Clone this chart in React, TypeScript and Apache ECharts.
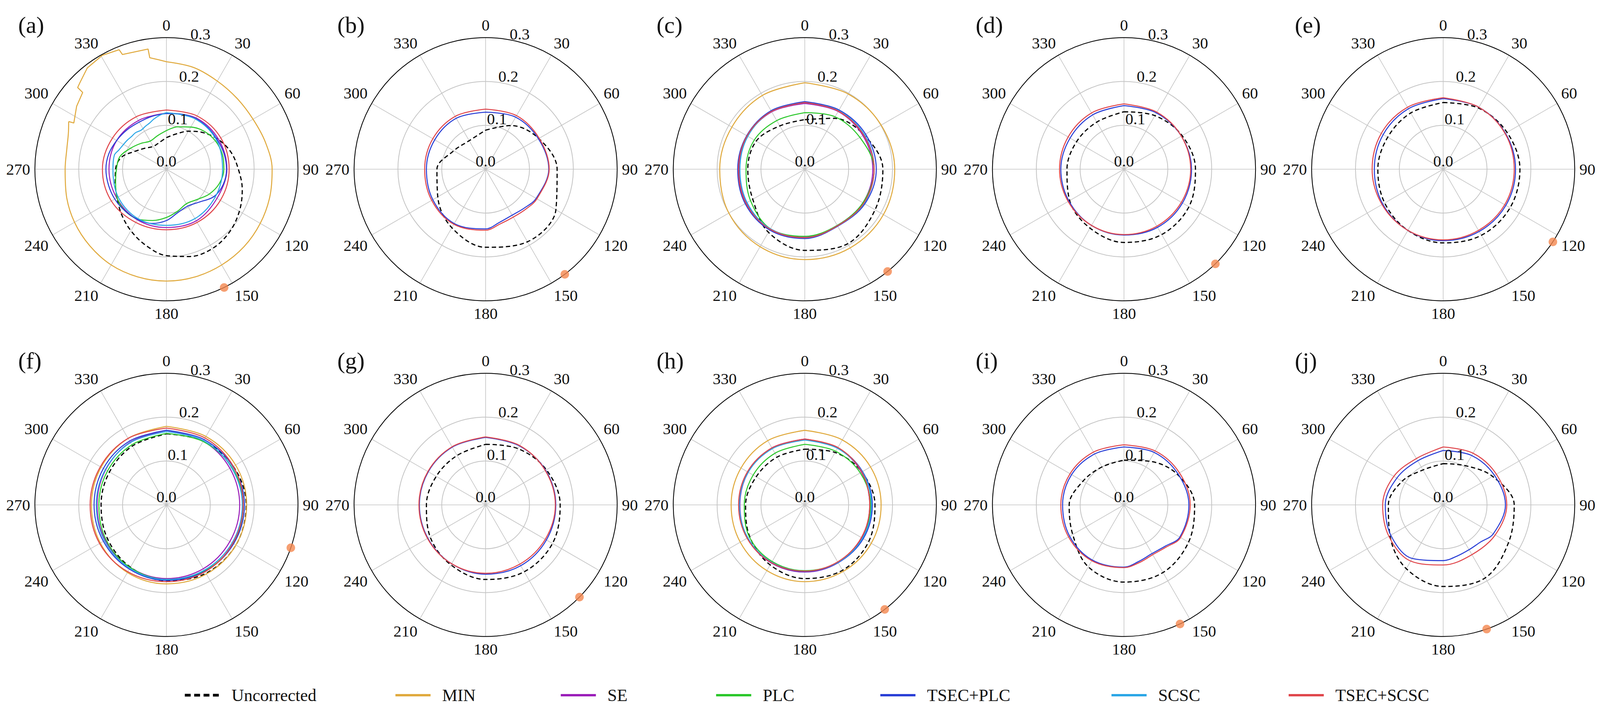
import { useEffect, useRef } from "react"
import * as echarts from "echarts"

const FONT = "'Liberation Serif', 'Times New Roman', serif"

// angles (deg, clockwise from north) at which the curves were read
const angles30 = [0, 30, 60, 90, 120, 150, 180, 210, 240, 270, 300, 330]
const angles15 = [0, 15, 30, 45, 60, 75, 90, 105, 120, 135, 150, 165, 180, 195, 210, 225, 240, 255, 270, 285, 300, 315, 330, 345]
// extra readings where a curve runs as a flat chord in the lower right
const anglesFlat = [0, 30, 60, 90, 120, 135, 150, 165, 180, 210, 240, 270, 300, 330]

const legendNames = ["Uncorrected", "MIN", "SE", "PLC", "TSEC+PLC", "SCSC", "TSEC+SCSC"]
const legendLeft = [496, 1066, 1513, 1933, 2377, 3002, 3481]
const panelLabels = ["(a)", "(b)", "(c)", "(d)", "(e)", "(f)", "(g)", "(h)", "(i)", "(j)"]
const radialTicks = [0, 0.1, 0.2, 0.3]

// (a)
const aUncorrected = [0.072, 0.083, 0.100, 0.118, 0.136, 0.152, 0.164, 0.179, 0.192, 0.203, 0.209, 0.206, 0.197, 0.180, 0.162, 0.145, 0.130, 0.121, 0.116, 0.106, 0.082, 0.068, 0.060, 0.063]
// MIN in (a): a smooth arc, then a stepped stretch in the upper left
const aMinArcAngles = [0, 15, 30, 45, 60, 75, 90, 105, 120, 135, 150, 165, 180, 195, 210, 225, 240, 255, 270, 282, 290, 296]
const aMinArc = [0.245, 0.240, 0.232, 0.228, 0.228, 0.234, 0.241, 0.244, 0.247, 0.250, 0.252, 0.254, 0.255, 0.254, 0.252, 0.247, 0.242, 0.236, 0.231, 0.232, 0.238, 0.248]
const aMinStepAngles = [296, 296.5, 305, 312.5, 312.6, 315, 322, 330.6, 338.4, 339, 351.3, 351.5, 356, 360]
const aMinStep = [0.248, 0.236, 0.250, 0.259, 0.275, 0.279, 0.293, 0.298, 0.293, 0.280, 0.277, 0.257, 0.250, 0.245]
const aSE = [0.128, 0.135, 0.137, 0.138, 0.133, 0.136, 0.133, 0.133, 0.131, 0.131, 0.131, 0.128]
const aPLC = [0.088, 0.100, 0.111, 0.122, 0.129, 0.132, 0.131, 0.125, 0.113, 0.098, 0.091, 0.099, 0.110, 0.121, 0.131, 0.134, 0.130, 0.120, 0.114, 0.110, 0.095, 0.083, 0.074, 0.079]
const aTsecPlc = [0.127, 0.130, 0.133, 0.134, 0.134, 0.136, 0.137, 0.134, 0.125, 0.106, 0.097, 0.102, 0.117, 0.128, 0.132, 0.134, 0.136, 0.137, 0.138, 0.136, 0.131, 0.127, 0.124, 0.125]
const aScscAngles = [0, 30, 60, 90, 120, 150, 180, 210, 240, 270, 285, 292, 300, 307, 313, 320, 327, 334, 340, 346, 353]
const aScsc = [0.129, 0.132, 0.132, 0.128, 0.128, 0.130, 0.128, 0.130, 0.127, 0.122, 0.123, 0.117, 0.113, 0.111, 0.109, 0.109, 0.106, 0.109, 0.112, 0.118, 0.124]
const aTsecScsc = [0.135, 0.140, 0.143, 0.143, 0.142, 0.140, 0.138, 0.140, 0.145, 0.146, 0.142, 0.138]

// (b)
const bUncorrected = [0.089, 0.115, 0.140, 0.163, 0.185, 0.191, 0.178, 0.154, 0.126, 0.111, 0.084, 0.075]
const bTsecPlc = [0.130, 0.137, 0.139, 0.144, 0.133, 0.125, 0.121, 0.125, 0.136, 0.143, 0.139, 0.135, 0.134, 0.134]
const bTsecScsc = [0.137, 0.141, 0.141, 0.145, 0.135, 0.129, 0.126, 0.129, 0.139, 0.145, 0.142, 0.139, 0.139, 0.139]

// (c)
const cUncorrected = [0.113, 0.134, 0.156, 0.178, 0.185, 0.196, 0.185, 0.166, 0.137, 0.130, 0.128, 0.114]
const cMin = [0.197, 0.198, 0.201, 0.205, 0.207, 0.207, 0.206, 0.204, 0.200, 0.194, 0.192, 0.194]
const cSE = [0.150, 0.152, 0.153, 0.155, 0.153, 0.148, 0.155, 0.157, 0.154, 0.150, 0.151, 0.151]
const cPLC = [0.129, 0.138, 0.145, 0.158, 0.153, 0.148, 0.153, 0.157, 0.143, 0.134, 0.133, 0.128]
const cTsecPlc = [0.154, 0.156, 0.160, 0.163, 0.158, 0.150, 0.158, 0.160, 0.157, 0.153, 0.153, 0.154]
const cScsc = [0.152, 0.154, 0.157, 0.158, 0.156, 0.149, 0.156, 0.157, 0.152, 0.148, 0.150, 0.152]
const cTsecScsc = [0.152, 0.153, 0.155, 0.158, 0.155, 0.149, 0.156, 0.158, 0.155, 0.151, 0.152, 0.152]

// (d)
const dUncorrected = [0.131, 0.141, 0.153, 0.163, 0.171, 0.172, 0.167, 0.155, 0.143, 0.130, 0.125, 0.124]
const dTsecPlc = [0.145, 0.148, 0.151, 0.154, 0.154, 0.153, 0.150, 0.148, 0.145, 0.144, 0.142, 0.143]
const dTsecScsc = [0.149, 0.150, 0.151, 0.152, 0.151, 0.150, 0.149, 0.148, 0.147, 0.147, 0.147, 0.148]

// (e)
const eUncorrected = [0.152, 0.161, 0.168, 0.175, 0.176, 0.174, 0.168, 0.161, 0.154, 0.149, 0.146, 0.148]
const eTsecPlc = [0.161, 0.163, 0.164, 0.165, 0.165, 0.164, 0.163, 0.161, 0.159, 0.157, 0.158, 0.159]
const eTsecScsc = [0.163, 0.163, 0.163, 0.162, 0.162, 0.161, 0.161, 0.161, 0.161, 0.162, 0.163, 0.163]

// (f)
const fUncorrected = [0.162, 0.168, 0.176, 0.182, 0.183, 0.180, 0.173, 0.164, 0.155, 0.149, 0.150, 0.155]
const fMin = [0.179, 0.180, 0.182, 0.183, 0.183, 0.182, 0.180, 0.178, 0.174, 0.171, 0.172, 0.175]
const fSE = [0.170, 0.168, 0.167, 0.167, 0.167, 0.168, 0.168, 0.165, 0.161, 0.158, 0.160, 0.165]
const fPLC = [0.163, 0.167, 0.172, 0.175, 0.176, 0.174, 0.170, 0.165, 0.159, 0.154, 0.155, 0.158]
const fTsecPlc = [0.170, 0.172, 0.175, 0.178, 0.177, 0.175, 0.172, 0.169, 0.166, 0.165, 0.166, 0.168]
const fScsc = [0.167, 0.169, 0.171, 0.173, 0.173, 0.172, 0.170, 0.167, 0.163, 0.160, 0.161, 0.164]
const fTsecScsc = [0.175, 0.176, 0.176, 0.175, 0.175, 0.176, 0.175, 0.176, 0.176, 0.174, 0.174, 0.175]

// (g)
const gUncorrected = [0.138, 0.148, 0.160, 0.170, 0.176, 0.176, 0.170, 0.158, 0.146, 0.135, 0.130, 0.130]
const gTsecPlc = [0.154, 0.155, 0.158, 0.160, 0.160, 0.160, 0.158, 0.155, 0.152, 0.151, 0.151, 0.152]
const gTsecScsc = [0.155, 0.156, 0.157, 0.159, 0.157, 0.156, 0.156, 0.155, 0.153, 0.152, 0.152, 0.153]

// (h)
const hUncorrected = [0.127, 0.138, 0.150, 0.160, 0.168, 0.172, 0.168, 0.158, 0.145, 0.135, 0.128, 0.126]
const hMin = [0.170, 0.171, 0.173, 0.174, 0.175, 0.175, 0.175, 0.173, 0.170, 0.168, 0.168, 0.169]
const hSE = [0.150, 0.150, 0.149, 0.148, 0.150, 0.152, 0.153, 0.153, 0.151, 0.148, 0.149, 0.150]
const hPLC = [0.138, 0.141, 0.146, 0.150, 0.152, 0.151, 0.150, 0.149, 0.146, 0.138, 0.136, 0.136]
const hTsecPlc = [0.149, 0.150, 0.152, 0.154, 0.154, 0.152, 0.152, 0.152, 0.151, 0.150, 0.150, 0.149]
const hScsc = [0.148, 0.149, 0.151, 0.152, 0.152, 0.151, 0.151, 0.151, 0.150, 0.149, 0.149, 0.148]
const hTsecScsc = [0.150, 0.151, 0.150, 0.148, 0.149, 0.150, 0.151, 0.152, 0.152, 0.151, 0.151, 0.150]

// (i)
const iUncorrected = [0.102, 0.115, 0.140, 0.161, 0.170, 0.178, 0.176, 0.163, 0.135, 0.125, 0.108, 0.100]
const iTsecPlc = [0.132, 0.138, 0.142, 0.148, 0.147, 0.133, 0.128, 0.133, 0.142, 0.145, 0.143, 0.140, 0.138, 0.134]
const iTsecScsc = [0.137, 0.142, 0.146, 0.151, 0.149, 0.136, 0.131, 0.136, 0.143, 0.147, 0.146, 0.144, 0.142, 0.139]

// (j)
const jUncorrected = [0.094, 0.103, 0.130, 0.162, 0.172, 0.192, 0.186, 0.168, 0.140, 0.125, 0.108, 0.092]
const jTsecPlc = [0.124, 0.130, 0.135, 0.142, 0.132, 0.120, 0.118, 0.121, 0.127, 0.141, 0.138, 0.132, 0.122, 0.116]
const jTsecScsc = [0.132, 0.136, 0.140, 0.145, 0.137, 0.131, 0.137, 0.148, 0.143, 0.138, 0.130, 0.122]

// angle of the orange marker on the outer ring, per panel
const dotAngles = [154, 143, 141, 136, 123.5, 109, 134.5, 142.6, 154.8, 160.7]
const dotRadius = 0.3

const colors: Record<string, string> = {
  Uncorrected: "#000000",
  MIN: "#e0aa3e",
  SE: "#9b1eb9",
  PLC: "#2bc72b",
  "TSEC+PLC": "#2a3fd6",
  SCSC: "#2ba6e6",
  "TSEC+SCSC": "#e0474c",
}

type Curve = { name: string; radii: number[]; angles: number[]; sharp?: boolean; open?: boolean }

const panels: Curve[][] = [
  [
    { name: "Uncorrected", radii: aUncorrected, angles: angles15 },
    { name: "MIN", radii: aMinArc, angles: aMinArcAngles, open: true },
    { name: "MIN", radii: aMinStep, angles: aMinStepAngles, sharp: true, open: true },
    { name: "SE", radii: aSE, angles: angles30 },
    { name: "PLC", radii: aPLC, angles: angles15 },
    { name: "TSEC+PLC", radii: aTsecPlc, angles: angles15 },
    { name: "SCSC", radii: aScsc, angles: aScscAngles },
    { name: "TSEC+SCSC", radii: aTsecScsc, angles: angles30 },
  ],
  [
    { name: "Uncorrected", radii: bUncorrected, angles: angles30 },
    { name: "TSEC+PLC", radii: bTsecPlc, angles: anglesFlat },
    { name: "TSEC+SCSC", radii: bTsecScsc, angles: anglesFlat },
  ],
  [
    { name: "Uncorrected", radii: cUncorrected, angles: angles30 },
    { name: "MIN", radii: cMin, angles: angles30 },
    { name: "SE", radii: cSE, angles: angles30 },
    { name: "PLC", radii: cPLC, angles: angles30 },
    { name: "TSEC+PLC", radii: cTsecPlc, angles: angles30 },
    { name: "SCSC", radii: cScsc, angles: angles30 },
    { name: "TSEC+SCSC", radii: cTsecScsc, angles: angles30 },
  ],
  [
    { name: "Uncorrected", radii: dUncorrected, angles: angles30 },
    { name: "TSEC+PLC", radii: dTsecPlc, angles: angles30 },
    { name: "TSEC+SCSC", radii: dTsecScsc, angles: angles30 },
  ],
  [
    { name: "Uncorrected", radii: eUncorrected, angles: angles30 },
    { name: "TSEC+PLC", radii: eTsecPlc, angles: angles30 },
    { name: "TSEC+SCSC", radii: eTsecScsc, angles: angles30 },
  ],
  [
    { name: "Uncorrected", radii: fUncorrected, angles: angles30 },
    { name: "MIN", radii: fMin, angles: angles30 },
    { name: "SE", radii: fSE, angles: angles30 },
    { name: "PLC", radii: fPLC, angles: angles30 },
    { name: "TSEC+PLC", radii: fTsecPlc, angles: angles30 },
    { name: "SCSC", radii: fScsc, angles: angles30 },
    { name: "TSEC+SCSC", radii: fTsecScsc, angles: angles30 },
  ],
  [
    { name: "Uncorrected", radii: gUncorrected, angles: angles30 },
    { name: "TSEC+PLC", radii: gTsecPlc, angles: angles30 },
    { name: "TSEC+SCSC", radii: gTsecScsc, angles: angles30 },
  ],
  [
    { name: "Uncorrected", radii: hUncorrected, angles: angles30 },
    { name: "MIN", radii: hMin, angles: angles30 },
    { name: "SE", radii: hSE, angles: angles30 },
    { name: "PLC", radii: hPLC, angles: angles30 },
    { name: "TSEC+PLC", radii: hTsecPlc, angles: angles30 },
    { name: "SCSC", radii: hScsc, angles: angles30 },
    { name: "TSEC+SCSC", radii: hTsecScsc, angles: angles30 },
  ],
  [
    { name: "Uncorrected", radii: iUncorrected, angles: angles30 },
    { name: "TSEC+PLC", radii: iTsecPlc, angles: anglesFlat },
    { name: "TSEC+SCSC", radii: iTsecScsc, angles: anglesFlat },
  ],
  [
    { name: "Uncorrected", radii: jUncorrected, angles: angles30 },
    { name: "TSEC+PLC", radii: jTsecPlc, angles: anglesFlat },
    { name: "TSEC+SCSC", radii: jTsecScsc, angles: angles30 },
  ],
]

// layout (px, in the 4326 x 1822 design frame)
const WIDTH = 4326
const HEIGHT = 1822
const colX = [450, 1313, 2176, 3039, 3902]
const rowY = [433, 1292]
const RADIUS = 346

// the browser may give a narrower page than the design frame: squeeze x positions to fit
function pageWidth() {
  return Math.min(WIDTH, window.innerWidth || WIDTH)
}

function buildOption(sx: number) {
  const n = panels.length
  const centers = panels.map((_, i) => [colX[i % 5] * sx, rowY[Math.floor(i / 5)]])
  const radius = RADIUS * (1 + sx) / 2

  const polar: any[] = []
  const angleAxis: any[] = []
  const radiusAxis: any[] = []
  const series: any[] = []

  centers.forEach((c, i) => {
    polar.push({ center: c, radius })
    angleAxis.push({
      polarIndex: i,
      type: "value",
      min: 0,
      max: 360,
      interval: 30,
      startAngle: 90,
      clockwise: true,
      z: 1,
      axisLine: { lineStyle: { color: "#000", width: 2 } },
      axisTick: { show: false },
      axisLabel: { fontSize: 41, fontFamily: FONT, color: "#111", margin: 12 },
      splitLine: { lineStyle: { color: "#c4c4c4", width: 1.6 } },
    })
    radiusAxis.push({
      polarIndex: i,
      type: "value",
      min: 0,
      max: 0.3,
      interval: 0.1,
      axisLine: { show: false },
      axisTick: { show: false },
      axisLabel: { show: false },
      splitLine: { lineStyle: { color: "#c4c4c4", width: 2 } },
    })
  })

  // second polar per panel only carries the radial tick labels, along a ray 15deg off north
  centers.forEach((c, i) => {
    polar.push({ center: c, radius })
    angleAxis.push({ polarIndex: n + i, type: "value", min: 0, max: 360, startAngle: 75, show: false })
    radiusAxis.push({
      polarIndex: n + i,
      type: "value",
      min: radialTicks[0],
      max: radialTicks[radialTicks.length - 1],
      interval: 0.1,
      z: 3,
      axisLine: { show: false },
      axisTick: { show: false },
      splitLine: { show: false },
      axisLabel: {
        show: true,
        margin: 0,
        align: "center",
        verticalAlign: "bottom",
        fontSize: 41,
        lineHeight: 42,
        fontFamily: FONT,
        color: "#111",
        showMinLabel: true,
        showMaxLabel: true,
        formatter: (v: number) => v.toFixed(1),
      },
    })
  })

  panels.forEach((curves, i) => {
    curves.forEach((cv) => {
      const data = cv.radii.map((r, k) => [r, cv.angles[k]])
      if (!cv.open && cv.angles[cv.angles.length - 1] !== 360) data.push([cv.radii[0], 360])
      const dashed = cv.name === "Uncorrected"
      series.push({
        type: "line",
        name: cv.name,
        coordinateSystem: "polar",
        polarIndex: i,
        data,
        symbol: "none",
        smooth: cv.sharp ? false : 0.35,
        silent: true,
        z: 2,
        itemStyle: { color: colors[cv.name] },
        lineStyle: { color: colors[cv.name], width: dashed ? 3 : 2.6, type: dashed ? [11, 7] : "solid" },
      })
    })
    series.push({
      type: "scatter",
      name: "marker",
      coordinateSystem: "polar",
      polarIndex: i,
      data: [[dotRadius, dotAngles[i]]],
      symbolSize: 22,
      silent: true,
      z: 5,
      itemStyle: { color: "#f4874f" },
    })
  })

  const title = panelLabels.map((t, i) => ({
    text: t,
    left: centers[i][0] - 401 * sx,
    top: centers[i][1] - 399,
    padding: 0,
    textStyle: { fontSize: 60, lineHeight: 60, fontFamily: FONT, fontWeight: "normal", color: "#111" },
  }))

  const legend = legendNames.map((name, i) => ({
    data: [name],
    left: legendLeft[i] * sx,
    top: 1757,
    padding: 0,
    itemWidth: 95 * sx,
    itemHeight: 20,
    selectedMode: false,
    itemStyle: { opacity: 0 },
    lineStyle: name === "Uncorrected" ? { width: 7, type: [15, 9] } : { width: 6 },
    textStyle: { fontSize: 44, lineHeight: 44, fontFamily: FONT, color: "#111", padding: [0, 0, 0, 26 * sx] },
  }))

  return {
    animation: false,
    backgroundColor: "#ffffff",
    textStyle: { fontFamily: FONT },
    title,
    legend,
    polar,
    angleAxis,
    radiusAxis,
    series,
  }
}

export default function App() {
  const chartRef = useRef<HTMLDivElement>(null)
  const width = pageWidth()

  useEffect(() => {
    if (!chartRef.current) return
    const chart = echarts.init(chartRef.current, null, { renderer: "svg" })
    chart.setOption(buildOption(width / WIDTH))
    return () => {
      chart.dispose()
    }
  }, [width])

  return (
    <div
      ref={chartRef}
      style={{ position: "absolute", left: 0, top: 0, width, height: HEIGHT, background: "#fff" }}
    />
  )
}
